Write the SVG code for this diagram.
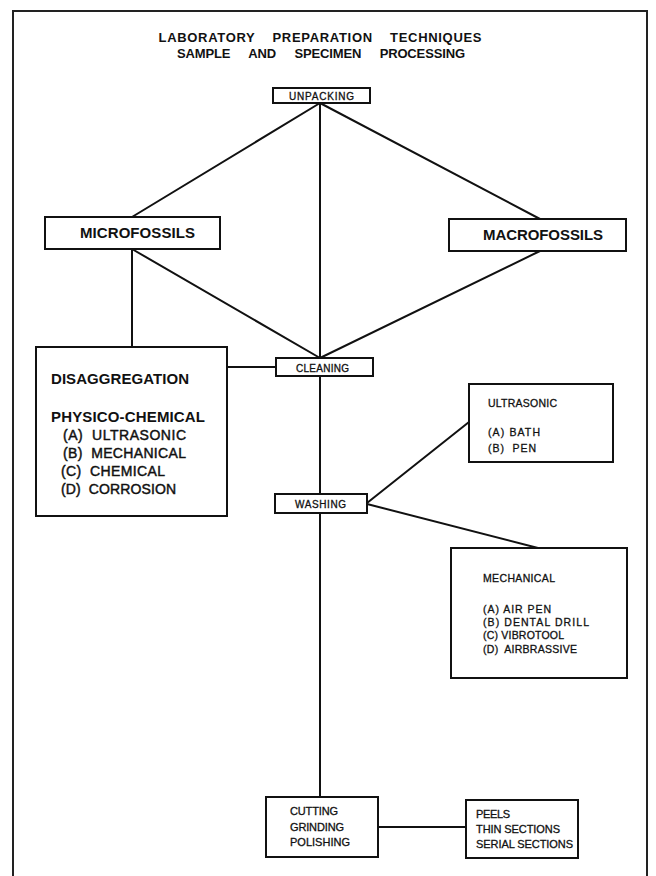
<svg xmlns="http://www.w3.org/2000/svg" width="656" height="876" viewBox="0 0 656 876">
<style>
  text { font-family: "Liberation Sans", "DejaVu Sans", Arial, sans-serif; fill: #111; }
  .box { fill: #fff; stroke: #111; stroke-width: 2; }
  .frame { fill: none; stroke: #222; stroke-width: 2; }
  .conn line { stroke: #111; stroke-width: 2; stroke-linecap: round; }
  .title { font-size: 13px; font-weight: bold; }
  .big { font-size: 15px; font-weight: bold; }
  .small { font-size: 10px; stroke: #111; stroke-width: 0.3; }
  .box11 { font-size: 10.5px; stroke: #111; stroke-width: 0.3; }
  .list { font-size: 14px; stroke: #111; stroke-width: 0.45; }
  .mid { font-size: 11px; stroke: #111; stroke-width: 0.3; }
</style>
<rect width="656" height="876" fill="#fff"/>
<path class="frame" d="M13,880 L13,11 L647,11 L647,880"/>

<g id="title">
  <text class="title" x="320" y="42" text-anchor="middle" textLength="323" lengthAdjust="spacing" word-spacing="13">LABORATORY PREPARATION TECHNIQUES</text>
  <text class="title" x="321" y="58" text-anchor="middle" textLength="288" lengthAdjust="spacing" word-spacing="15">SAMPLE AND SPECIMEN PROCESSING</text>
</g>

<g class="conn" id="connectors">
  <line x1="320" y1="103" x2="132" y2="217"/>
  <line x1="320" y1="103" x2="540" y2="219"/>
  <line x1="320" y1="103" x2="320" y2="358"/>
  <line x1="132" y1="249" x2="320" y2="358"/>
  <line x1="540" y1="251" x2="320" y2="358"/>
  <line x1="132" y1="249" x2="132" y2="347"/>
  <line x1="227" y1="367" x2="276" y2="367"/>
  <line x1="320" y1="376" x2="320" y2="494"/>
  <line x1="367" y1="503" x2="469" y2="422"/>
  <line x1="367" y1="504" x2="538" y2="548"/>
  <line x1="320" y1="513" x2="320" y2="797"/>
  <line x1="378" y1="827" x2="466" y2="827"/>
</g>

<g id="unpacking">
  <rect class="box" x="273" y="88" width="97" height="15"/>
  <text class="small" x="289" y="99.5" textLength="65" lengthAdjust="spacing">UNPACKING</text>
</g>

<g id="microfossils">
  <rect class="box" x="45" y="217" width="175" height="32"/>
  <text class="big" x="80" y="237.5" textLength="115" lengthAdjust="spacing">MICROFOSSILS</text>
</g>

<g id="macrofossils">
  <rect class="box" x="449" y="219" width="177" height="32"/>
  <text class="big" x="483" y="240" textLength="120" lengthAdjust="spacing">MACROFOSSILS</text>
</g>

<g id="disaggregation">
  <rect class="box" x="36" y="347" width="191" height="169"/>
  <text class="big" x="51" y="384" textLength="138" lengthAdjust="spacing">DISAGGREGATION</text>
  <text class="big" x="51" y="422" textLength="154" lengthAdjust="spacing">PHYSICO-CHEMICAL</text>
  <text class="list" x="63" y="440" xml:space="preserve" textLength="123" lengthAdjust="spacing">(A)  ULTRASONIC</text>
  <text class="list" x="63" y="458" xml:space="preserve" textLength="123" lengthAdjust="spacing">(B)  MECHANICAL</text>
  <text class="list" x="61" y="476" xml:space="preserve" textLength="104" lengthAdjust="spacing">(C)  CHEMICAL</text>
  <text class="list" x="61" y="494" xml:space="preserve" textLength="115" lengthAdjust="spacing">(D)  CORROSION</text>
</g>

<g id="cleaning">
  <rect class="box" x="276" y="358" width="97" height="18"/>
  <text class="small" x="296" y="371.5" textLength="53" lengthAdjust="spacing">CLEANING</text>
</g>

<g id="washing">
  <rect class="box" x="275" y="494" width="92" height="19"/>
  <text class="small" x="295" y="508" textLength="51" lengthAdjust="spacing">WASHING</text>
</g>

<g id="ultrasonic">
  <rect class="box" x="469" y="384" width="144" height="78"/>
  <text class="box11" x="488" y="407" textLength="69" lengthAdjust="spacing">ULTRASONIC</text>
  <text class="box11" x="488" y="436" textLength="52" lengthAdjust="spacing">(A) BATH</text>
  <text class="box11" x="488" y="452" xml:space="preserve" textLength="48" lengthAdjust="spacing">(B)  PEN</text>
</g>

<g id="mechanical">
  <rect class="box" x="451" y="548" width="176" height="130"/>
  <text class="box11" x="483" y="582" textLength="72" lengthAdjust="spacing">MECHANICAL</text>
  <text class="box11" x="483" y="613" textLength="68" lengthAdjust="spacing">(A) AIR PEN</text>
  <text class="box11" x="483" y="626" textLength="106" lengthAdjust="spacing">(B) DENTAL DRILL</text>
  <text class="box11" x="483" y="639" textLength="81" lengthAdjust="spacing">(C) VIBROTOOL</text>
  <text class="box11" x="483" y="653" xml:space="preserve" textLength="94" lengthAdjust="spacing">(D)  AIRBRASSIVE</text>
</g>

<g id="cutting">
  <rect class="box" x="266" y="797" width="112" height="60"/>
  <text class="mid" x="290" y="815" textLength="48" lengthAdjust="spacing">CUTTING</text>
  <text class="mid" x="290" y="831" textLength="54" lengthAdjust="spacing">GRINDING</text>
  <text class="mid" x="290" y="846" textLength="60" lengthAdjust="spacing">POLISHING</text>
</g>

<g id="peels">
  <rect class="box" x="466" y="800" width="112" height="58"/>
  <text class="mid" x="476" y="818" textLength="34" lengthAdjust="spacing">PEELS</text>
  <text class="mid" x="476" y="833" textLength="84" lengthAdjust="spacing">THIN SECTIONS</text>
  <text class="mid" x="476" y="848" textLength="97" lengthAdjust="spacing">SERIAL SECTIONS</text>
</g>
</svg>
